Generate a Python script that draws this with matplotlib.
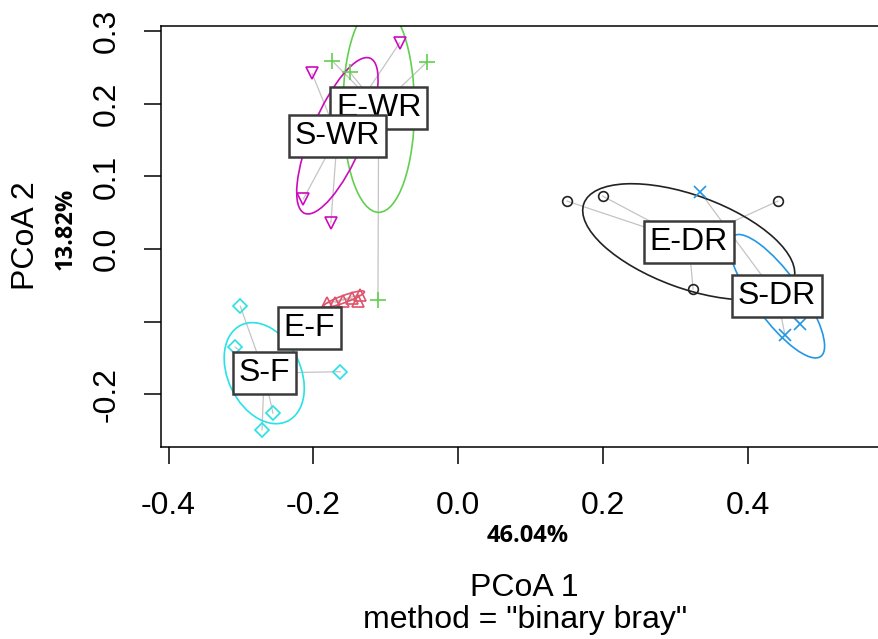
import matplotlib.pyplot as plt
from matplotlib.patches import Ellipse

# groups and colours (R 4 palette order)
groups = ["E-DR", "E-F", "E-WR", "S-DR", "S-F", "S-WR"]
colors = ["#222222", "#DF536B", "#61D04F", "#2297E6", "#28E2E5", "#CD0BBC"]
markers = ["o", "^", "+", "x", "D", "v"]

# site scores per group (PCoA 1, PCoA 2)
edr_x = [0.150, 0.199, 0.441, 0.324]
edr_y = [0.066, 0.073, 0.066, -0.055]
ef_x = [-0.182, -0.170, -0.159, -0.147, -0.139, -0.136]
ef_y = [-0.075, -0.074, -0.071, -0.068, -0.071, -0.063]
ewr_x = [-0.174, -0.150, -0.043, -0.111]
ewr_y = [0.259, 0.244, 0.258, -0.070]
sdr_x = [0.334, 0.451, 0.472]
sdr_y = [0.078, -0.119, -0.103]
sf_x = [-0.301, -0.308, -0.163, -0.256, -0.271]
sf_y = [-0.079, -0.135, -0.169, -0.226, -0.249]
swr_x = [-0.202, -0.081, -0.214, -0.176]
swr_y = [0.242, 0.284, 0.069, 0.036]

# group centroids (spider centres) and label positions
cent_x = [0.318, -0.158, -0.110, 0.440, -0.268, -0.167]
cent_y = [0.010, -0.069, 0.194, -0.065, -0.171, 0.156]
lab_x = [0.318, -0.206, -0.110, 0.440, -0.268, -0.167]
lab_y = [0.010, -0.109, 0.194, -0.065, -0.171, 0.156]

# ellipses: full major / minor axis and angle (degrees)
ell_major = [0.308, 0.060, 0.287, 0.205, 0.147, 0.232]
ell_minor = [0.128, 0.010, 0.099, 0.064, 0.100, 0.072]
ell_angle = [-20, 20, 90, -54, -64, 67]

xticks = [-0.4, -0.2, 0.0, 0.2, 0.4]
xlabels = ["-0.4", "-0.2", "0.0", "0.2", "0.4"]
yticks = [-0.2, -0.1, 0.0, 0.1, 0.2, 0.3]
ylabels = ["-0.2", "", "0.0", "0.1", "0.2", "0.3"]

pts_x = [edr_x, ef_x, ewr_x, sdr_x, sf_x, swr_x]
pts_y = [edr_y, ef_y, ewr_y, sdr_y, sf_y, swr_y]

plt.rcParams["font.family"] = ["Liberation Sans", "DejaVu Sans"]

W, H = 879, 639
fig = plt.figure(figsize=(W / 100, H / 100), dpi=100)
# plot box runs past the right edge of the image (cropped in the original)
ax = fig.add_axes([160.7 / W, 1 - 447 / H, (887 - 160.7) / W, (447 - 26) / H])
ax.set_xlim(-0.4109, 0.5917)
ax.set_ylim(-0.2727, 0.3072)

# spiders
for i in range(len(groups)):
    for px, py in zip(pts_x[i], pts_y[i]):
        ax.plot([cent_x[i], px], [cent_y[i], py], color="#C4C4C4", lw=0.9, zorder=1)

# ellipses
for i in range(len(groups)):
    e = Ellipse((cent_x[i], cent_y[i]), ell_major[i], ell_minor[i], angle=ell_angle[i],
                fill=False, edgecolor=colors[i], lw=1.2, zorder=2)
    ax.add_patch(e)

# points
sizes = [7, 9, 12, 9, 7.5, 9]
for i in range(len(groups)):
    mk = markers[i]
    if mk in ("+", "x"):
        ax.plot(pts_x[i], pts_y[i], ls="none", marker=mk, ms=sizes[i], color=colors[i],
                mew=1.2, zorder=3)
    else:
        ax.plot(pts_x[i], pts_y[i], ls="none", marker=mk, ms=sizes[i], mfc="none",
                mec=colors[i], mew=1.2, zorder=3)

# group labels
for i in range(len(groups)):
    ax.text(lab_x[i], lab_y[i], groups[i], fontsize=23, ha="center", va="center",
            zorder=5 + i,
            bbox=dict(boxstyle="square,pad=0.18", fc="white", ec="#3a3a3a", lw=1.8))

for s in ax.spines.values():
    s.set_linewidth(1.1)
ax.set_xticks(xticks, xlabels)
ax.set_yticks(yticks, ylabels)
ax.tick_params(axis="both", direction="out", length=12, width=1.1, labelsize=23)
ax.tick_params(axis="x", pad=20)
ax.tick_params(axis="y", pad=16, labelrotation=90)
for lab in ax.get_yticklabels():
    lab.set_verticalalignment("center")

fig.text(524 / W, 1 - 596 / H, "PCoA 1", fontsize=23, ha="center", va="baseline")
fig.text(525 / W, 1 - 628 / H, 'method = "binary bray"', fontsize=23, ha="center",
         va="baseline")
fig.text(528 / W, 1 - 536 / H, "46.04%", fontsize=17, fontweight="bold",
         family="Open Sans", ha="center", va="center")
fig.text(26 / W, 1 - 236 / H, "PCoA 2", fontsize=23, rotation=90, ha="center",
         va="center")
fig.text(66 / W, 1 - 229 / H, "13.82%", fontsize=17, fontweight="bold",
         family="Open Sans", rotation=90, ha="center", va="center")

fig.savefig("out.png", dpi=100)
